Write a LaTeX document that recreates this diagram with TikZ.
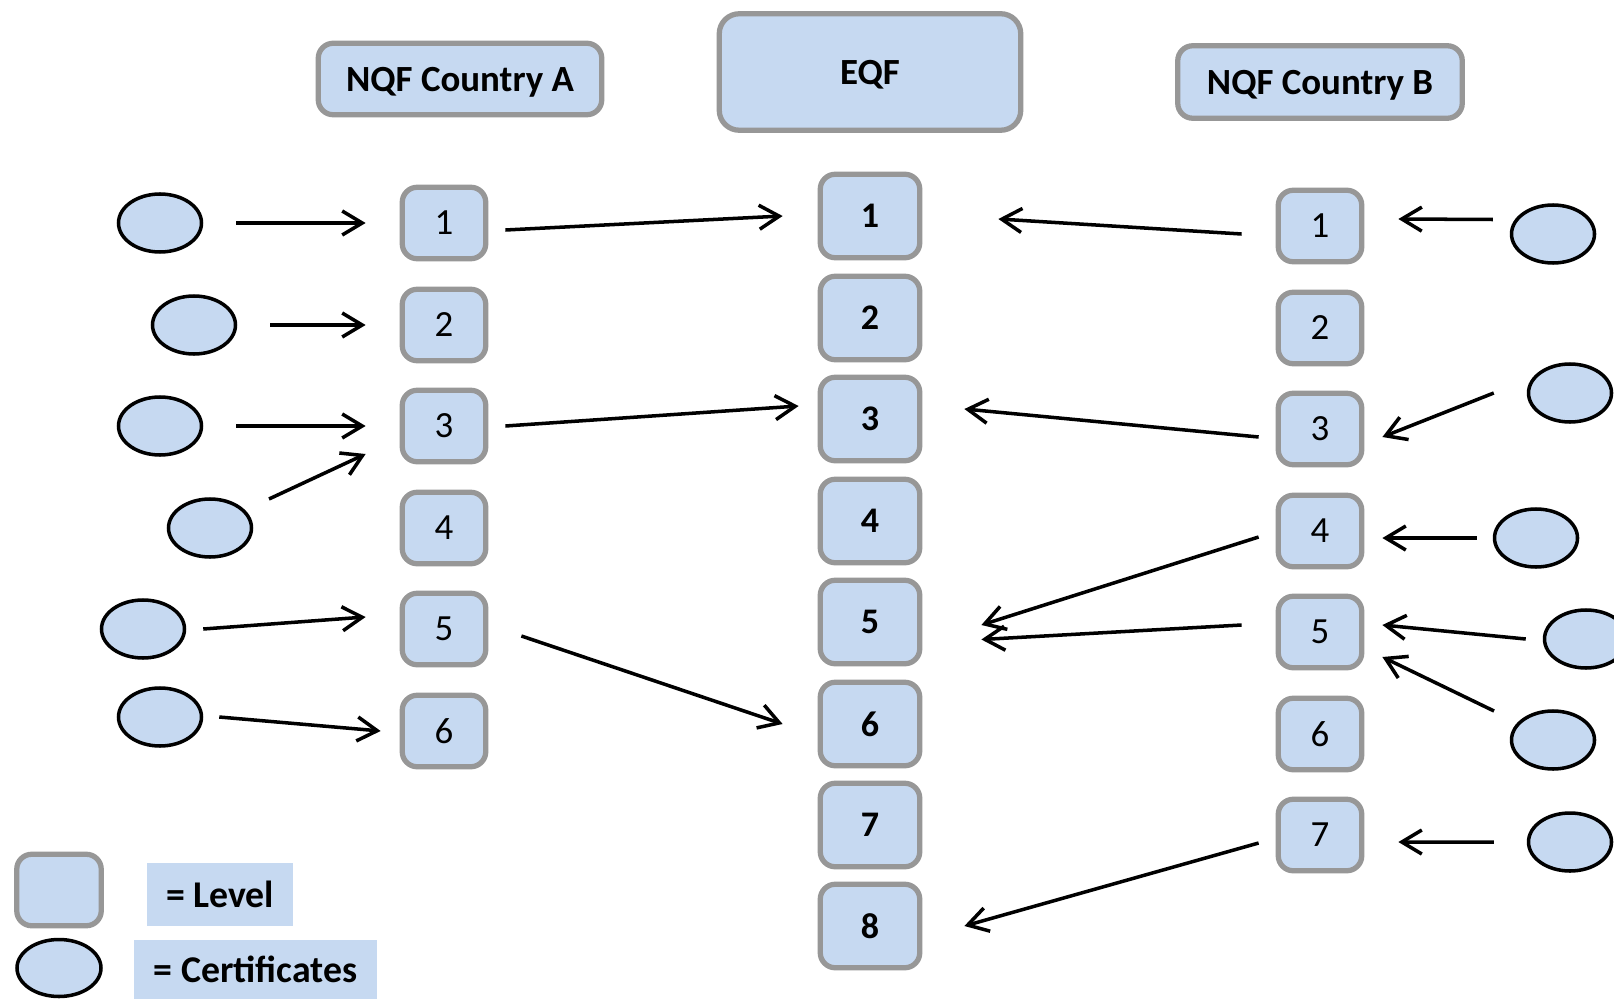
\documentclass[tikz,border=0pt]{standalone}
\usepackage{fontspec}
\setmainfont{Carlito}
\usepackage{xcolor}
\usetikzlibrary{shapes.geometric,positioning,arrows.meta}

\definecolor{boxfill}{HTML}{C6D9F1}
\definecolor{boxline}{HTML}{979797}

\begin{document}
\begin{tikzpicture}[
    heading/.style={
        rectangle,
        draw=boxline,
        fill=boxfill,
        line width=1.5pt,
        rounded corners=0.15cm,
        align=center,
        text depth=0pt,
        font=\fontsize{10.5}{12}\selectfont\bfseries
    },
    level/.style={
        rectangle,
        draw=boxline,
        fill=boxfill,
        line width=1.5pt,
        minimum width=0.835cm,
        minimum height=0.715cm,
        rounded corners=0.15cm,
        font=\fontsize{10.5}{12}\selectfont
    },
    eqflevel/.style={
        level,
        minimum width=0.995cm,
        minimum height=0.835cm,
        font=\fontsize{10.25}{12}\selectfont\bfseries
    },
    cert/.style={
        ellipse,
        draw=black,
        fill=boxfill,
        line width=1pt,
        minimum width=0.83cm,
        minimum height=0.58cm,
        inner sep=0pt
    },
    keytext/.style={
        rectangle,
        fill=boxfill,
        inner sep=0pt,
        font=\fontsize{10.75}{13}\selectfont\bfseries
    },
    link/.style={
        line width=1pt,
        -{Straight Barb[length=0.2cm,width=0.24cm,line width=1pt]}
    }
]
    \useasboundingbox (0,0) rectangle (16.14,-9.99);

    % --- HEADINGS ---
    \node [heading, minimum width=2.835cm, minimum height=0.715cm] (nqfa) at (4.60,-0.79) {NQF Country A};
    \node [heading, minimum width=3.015cm, minimum height=1.165cm, rounded corners=0.2cm] (eqf) at (8.70,-0.72) {EQF};
    \node [heading, minimum width=2.845cm, minimum height=0.725cm] (nqfb) at (13.20,-0.82) {NQF Country B};

    % --- LEVELS ---
    % Country A
    \node [level] (a1) at (4.44,-2.23) {1};
    \node [level] (a2) at (4.44,-3.25) {2};
    \node [level] (a3) at (4.44,-4.26) {3};
    \node [level] (a4) at (4.44,-5.28) {4};
    \node [level] (a5) at (4.44,-6.29) {5};
    \node [level] (a6) at (4.44,-7.31) {6};

    % EQF
    \node [eqflevel] (e1) at (8.70,-2.16) {1};
    \node [eqflevel] (e2) at (8.70,-3.18) {2};
    \node [eqflevel] (e3) at (8.70,-4.19) {3};
    \node [eqflevel] (e4) at (8.70,-5.21) {4};
    \node [eqflevel] (e5) at (8.70,-6.22) {5};
    \node [eqflevel] (e6) at (8.70,-7.24) {6};
    \node [eqflevel] (e7) at (8.70,-8.25) {7};
    \node [eqflevel] (e8) at (8.70,-9.26) {8};

    % Country B
    \node [level] (b1) at (13.20,-2.26) {1};
    \node [level] (b2) at (13.20,-3.28) {2};
    \node [level] (b3) at (13.20,-4.29) {3};
    \node [level] (b4) at (13.20,-5.31) {4};
    \node [level] (b5) at (13.20,-6.32) {5};
    \node [level] (b6) at (13.20,-7.34) {6};
    \node [level] (b7) at (13.20,-8.35) {7};

    % --- CERTIFICATES ---
    % Country A (left)
    \node [cert] (ca1) at (1.60,-2.23) {};
    \node [cert] (ca2) at (1.94,-3.25) {};
    \node [cert] (ca3) at (1.60,-4.26) {};
    \node [cert] (ca4) at (2.10,-5.28) {};
    \node [cert] (ca5) at (1.43,-6.29) {};
    \node [cert] (ca6) at (1.60,-7.17) {};

    % Country B (right)
    \node [cert] (cb1) at (15.53,-2.34) {};
    \node [cert] (cb2) at (15.70,-3.93) {};
    \node [cert] (cb3) at (15.36,-5.38) {};
    \node [cert] (cb4) at (15.86,-6.39) {};
    \node [cert] (cb5) at (15.53,-7.40) {};
    \node [cert] (cb6) at (15.70,-8.42) {};

    % --- LEGEND ---
    \node [level, minimum width=0.845cm] (levelkey) at (0.59,-8.90) {};
    \node [cert, minimum width=0.84cm, minimum height=0.57cm] (certkey) at (0.59,-9.68) {};
    \node [keytext, minimum width=1.46cm, minimum height=0.63cm] (leveltext) at (2.20,-8.94) {= Level};
    \node [keytext, minimum width=2.43cm, minimum height=0.59cm] (certtext) at (2.555,-9.695) {= Certificates};

    % --- ARROWS ---
    % Certificates A -> Levels A
    \draw [link] ([xshift=0.33cm]ca1.east) -- ([xshift=-0.34cm]a1.west);
    \draw [link] ([xshift=0.33cm]ca2.east) -- ([xshift=-0.34cm]a2.west);
    \draw [link] ([xshift=0.33cm]ca3.east) -- ([xshift=-0.34cm]a3.west);
    \draw [link] ([xshift=0.59cm,yshift=0.29cm]ca4.center) -- ([xshift=-0.34cm,yshift=-0.28cm]a3.west);
    \draw [link] ([xshift=0.17cm]ca5.east) -- ([xshift=-0.34cm,yshift=0.12cm]a5.west);
    \draw [link] ([xshift=0.16cm]ca6.east) -- ([xshift=-0.19cm]a6.west);

    % Levels A -> EQF
    \draw [link] ([xshift=0.17cm,yshift=-0.07cm]a1.east) -- ([xshift=-0.35cm]e1.west);
    \draw [link] ([xshift=0.17cm]a3.east) -- ([xshift=-0.19cm,yshift=0.13cm]e3.west);
    \draw [link] ([xshift=0.33cm,yshift=-0.07cm]a5.east) -- ([xshift=-0.35cm]e6.west);

    % Levels B -> EQF
    \draw [link] ([xshift=-0.34cm,yshift=-0.08cm]b1.west) -- ([xshift=0.76cm,yshift=-0.03cm]e1.east);
    \draw [link] ([xshift=-0.17cm,yshift=-0.08cm]b3.west) -- ([xshift=0.42cm,yshift=0.10cm]e3.east);
    \draw [link] ([xshift=-0.17cm,yshift=-0.06cm]b4.west) -- ([xshift=0.59cm,yshift=-0.03cm]e5.east);
    \draw [link] ([xshift=-0.34cm,yshift=0.07cm]b5.west) -- ([xshift=0.59cm,yshift=-0.175cm]e5.east);
    \draw [link] ([xshift=-0.17cm,yshift=-0.08cm]b7.west) -- ([xshift=0.42cm]e8.east);

    % Certificates B -> Levels B
    \draw [link] ([xshift=-0.17cm,yshift=0.145cm]cb1.west) -- ([xshift=0.34cm,yshift=0.07cm]b1.east);
    \draw [link] ([xshift=-0.33cm]cb2.west) -- ([xshift=0.18cm,yshift=-0.08cm]b3.east);
    \draw [link] ([xshift=-0.16cm]cb3.west) -- ([xshift=0.18cm,yshift=-0.07cm]b4.east);
    \draw [link] ([xshift=-0.17cm]cb4.west) -- ([xshift=0.18cm,yshift=0.07cm]b5.east);
    \draw [link] ([xshift=-0.59cm,yshift=0.29cm]cb5.center) -- ([xshift=0.18cm,yshift=-0.25cm]b5.east);
    \draw [link] ([xshift=-0.33cm]cb6.west) -- ([xshift=0.34cm,yshift=-0.07cm]b7.east);

\end{tikzpicture}
\end{document}
